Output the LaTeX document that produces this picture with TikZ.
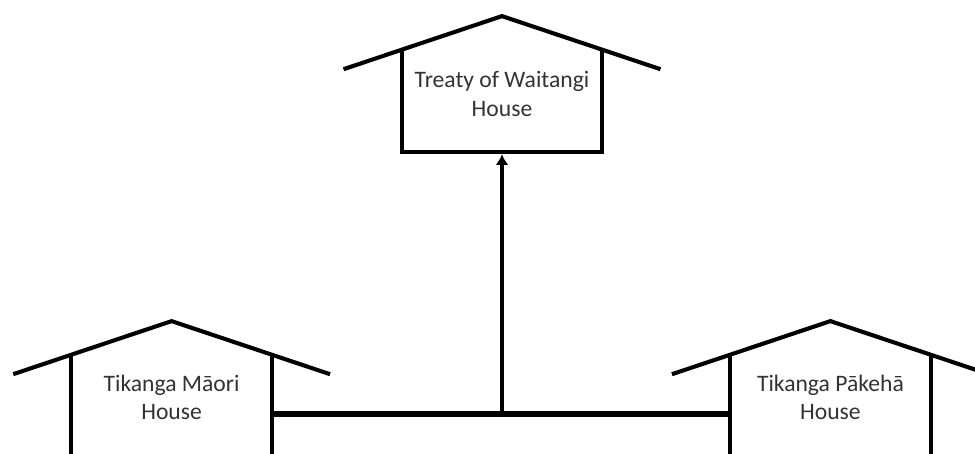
\documentclass[tikz,border=0pt]{standalone}
\usepackage{fontspec}
\setmainfont{Carlito}
\usetikzlibrary{arrows.meta, calc, positioning}

\begin{document}
\begin{tikzpicture}[
    >={Latex[width=9pt,length=7.5pt]},
    house/.style={inner sep=0pt, minimum width=5cm},
    lbl/.style  ={font=\fontsize{16.8}{20.3}\selectfont, text=black!80, align=center},
    wall/.style ={line width=2.9pt},
    link/.style ={line width=4.3pt},
    flow/.style ={->, line width=2.2pt, shorten >=1.4pt},
]
\useasboundingbox (0,0) rectangle (24.375,11.35);
% top house
\node[house, minimum height=2.55cm,
      label={[lbl, yshift=1.75mm]center:Treaty of Waitangi\\House}] (treaty) at (12.55,8.825) {};
\coordinate (treatypeak) at ([yshift=8.4mm]treaty.north);
\draw[wall] (treaty.north west) -- (treaty.south west) -- (treaty.south east) -- (treaty.north east);
\draw[wall] ($(treatypeak)!1.58!(treaty.north west)$) -- (treatypeak)
            -- ($(treatypeak)!1.58!(treaty.north east)$);
% left house
\node[house, minimum height=2.475cm,
      label={[lbl, yshift=1.75mm]center:Tikanga Māori\\House}] (maori) at (4.29,1.2375) {};
\coordinate (maoripeak) at ([yshift=8.4mm]maori.north);
\draw[wall] (maori.south west) -- (maori.north west);
\draw[wall] (maori.south east) -- (maori.north east);
\draw[wall] ($(maoripeak)!1.58!(maori.north west)$) -- (maoripeak)
            -- ($(maoripeak)!1.58!(maori.north east)$);
% right house
\node[house, minimum height=2.475cm,
      label={[lbl, yshift=1.75mm]center:Tikanga Pākehā\\House}] (pakeha) at (20.76,1.2375) {};
\coordinate (pakehapeak) at ([yshift=8.4mm]pakeha.north);
\draw[wall] (pakeha.south west) -- (pakeha.north west);
\draw[wall] (pakeha.south east) -- (pakeha.north east);
\draw[wall] ($(pakehapeak)!1.58!(pakeha.north west)$) -- (pakehapeak)
            -- ($(pakehapeak)!1.58!(pakeha.north east)$);
% connectors
\coordinate (join) at (12.55,1.0);
\draw[link] (maori.east |- join) -- (pakeha.west |- join);
\draw[flow] (join) -- (treaty.south);
\end{tikzpicture}
\end{document}
